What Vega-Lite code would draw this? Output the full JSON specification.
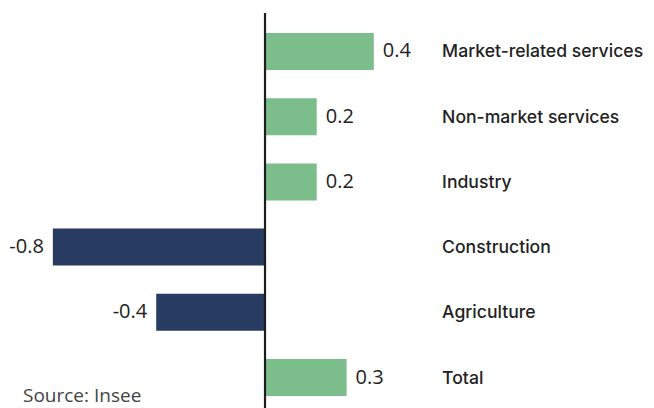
{
  "$schema": "https://vega.github.io/schema/vega-lite/v6.json",
  "width": 654,
  "height": 395,
  "autosize": {"type": "none"},
  "padding": {"top": 13, "left": 0, "right": 0, "bottom": 0},
  "background": "white",
  "config": {"view": {"stroke": null}, "font": "Open Sans"},
  "title": {"text": "Source: Insee", "orient": "bottom", "anchor": "start", "frame": "group", "offset": -22, "dx": 23, "fontSize": 19, "fontWeight": "normal", "color": "#444444", "font": "Open Sans"},
  "data": {"values": [
    {"sector": "Market-related services", "value": 0.40, "label": "0.4"},
    {"sector": "Non-market services", "value": 0.19, "label": "0.2"},
    {"sector": "Industry", "value": 0.19, "label": "0.2"},
    {"sector": "Construction", "value": -0.78, "label": "-0.8"},
    {"sector": "Agriculture", "value": -0.40, "label": "-0.4"},
    {"sector": "Total", "value": 0.30, "label": "0.3"}
  ]},
  "layer": [
    {
      "mark": {"type": "bar"},
      "encoding": {
        "y": {"field": "sector", "type": "nominal", "sort": null, "axis": null, "scale": {"range": [20, 383], "paddingInner": 0.433, "paddingOuter": 0}},
        "x": {"field": "value", "type": "quantitative", "axis": null, "scale": {"domain": [-0.9743, 1.4301], "nice": false, "zero": false}},
        "color": {"condition": {"test": "datum.value < 0", "value": "#283b61"}, "value": "#7cbd8c"}
      }
    },
    {
      "data": {"values": [{}]},
      "mark": {"type": "rule", "color": "#1e1e1e", "strokeWidth": 2.2},
      "encoding": {"x": {"datum": 0}}
    },
    {
      "mark": {"type": "text", "align": "left", "baseline": "middle", "font": "Inter", "fontSize": 17.6, "fontWeight": 500, "color": "#222222", "dy": 1},
      "encoding": {
        "y": {"field": "sector", "type": "nominal", "sort": null},
        "x": {"datum": 0.651},
        "text": {"field": "sector"}
      }
    },
    {
      "transform": [{"filter": "datum.value >= 0"}],
      "mark": {"type": "text", "align": "left", "baseline": "middle", "fontSize": 20, "color": "#222222", "dx": 9},
      "encoding": {
        "y": {"field": "sector", "type": "nominal", "sort": null},
        "x": {"field": "value", "type": "quantitative"},
        "text": {"field": "label"}
      }
    },
    {
      "transform": [{"filter": "datum.value < 0"}],
      "mark": {"type": "text", "align": "right", "baseline": "middle", "fontSize": 20, "color": "#222222", "dx": -9},
      "encoding": {
        "y": {"field": "sector", "type": "nominal", "sort": null},
        "x": {"field": "value", "type": "quantitative"},
        "text": {"field": "label"}
      }
    }
  ]
}
